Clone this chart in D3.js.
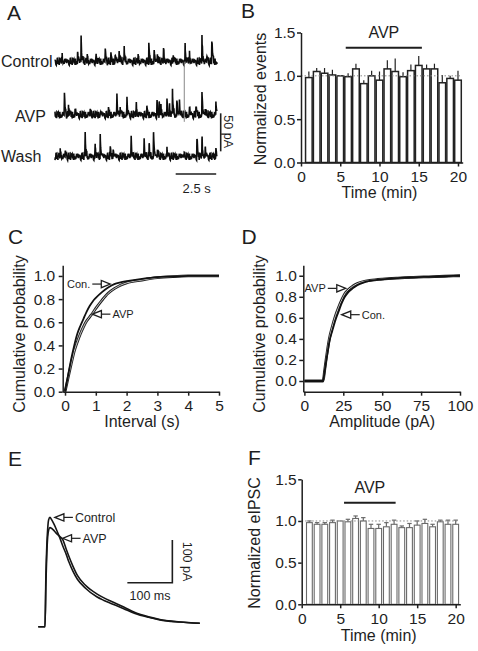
<!DOCTYPE html>
<html><head><meta charset="utf-8">
<script src="https://cdn.jsdelivr.net/npm/d3@7"></script>
<style>
html,body{margin:0;padding:0;background:#fff;}
svg{display:block;}
text{font-family:"Liberation Sans",Arial,sans-serif;fill:#1e1e1e;}
</style></head><body>
<svg id="c" width="478" height="651"></svg>
<script>
// ---------------- DATA ----------------
// Panel A: spontaneous events (time s, amplitude pA)
const traceLabels = ["Control", "AVP", "Wash"];
const ctrlSpikeT = [0.43,1.38,1.60,1.98,2.53,3.09,3.44,3.70,3.95,4.26,5.12,5.78,6.11,6.31,6.69,7.28,8.02,8.29,9.06,9.36,9.67];
const ctrlSpikeA = [7,13,32,7,7,17,9,11,14,17,7,21,14,9,18,8,20,10,32,8,30];
const avpSpikeT = [0.57,0.82,1.23,2.16,2.78,3.29,3.81,4.01,4.43,5.00,5.66,6.28,6.42,6.52,6.90,7.06,7.24,7.51,7.67,8.29,8.69,9.06,9.26,9.92];
const avpSpikeA = [29,13,7,7,5,7,26,9,20,15,9,18,14,12,20,11,31,18,18,9,11,29,9,18];
const washSpikeT = [0.31,0.62,1.85,2.47,2.78,3.40,3.58,4.69,5.49,5.80,6.07,6.31,6.90,7.90,8.75,9.06,9.26,9.92];
const washSpikeA = [8,9,29,15,29,11,13,25,22,15,31,12,9,7,26,26,11,15];
const noisePA = [1.2,-3.1,2.8,-0.9,4.0,-4.4,0.5,2.1,-2.5,3.3,-3.9,1.3,-0.3,4.5,-1.8,0.8,-4.3,2.4,-1.2,3.6,-2.8,0.2,4.3,-3.4,1.6,-0.6,2.7,-4.6,0.9,3.0,-2.1,0.3,-3.7,3.9,-1.3,1.9,-2.4,4.4,-0.2,-3.0,1.5];
const kernT = [0, 0.012, 0.05, 0.15];
const kernV = [0, 1, 0.3, 0];
const artifactT = 7.98;

// Panel B
const bTime = [1,2,3,4,5,6,7,8,9,10,11,12,13,14,15,16,17,18,19,20];
const bMean = [0.98,1.05,1.03,1.01,1.00,0.99,1.08,0.91,1.00,0.95,1.08,1.05,0.99,1.06,1.12,1.08,1.08,0.92,0.97,0.95];
const bErr  = [0.07,0.04,0.06,0.06,0.00,0.04,0.06,0.04,0.06,0.10,0.10,0.15,0.05,0.07,0.11,0.05,0.06,0.09,0.03,0.11];
const bAvp = [5.7, 15.4];

// Panel C
const cInt = [0,0.1,0.2,0.3,0.4,0.5,0.6,0.7,0.8,0.9,1.0,1.2,1.4,1.6,1.8,2.0,2.5,3.0,3.5,4.0,5.0];
const cCon = [0,0.14,0.28,0.40,0.50,0.57,0.63,0.69,0.74,0.78,0.81,0.86,0.90,0.93,0.945,0.955,0.975,0.99,0.995,1.0,1.0];
const cAVP = [0,0.12,0.24,0.35,0.43,0.50,0.56,0.61,0.645,0.68,0.72,0.79,0.85,0.89,0.92,0.94,0.965,0.985,0.995,1.0,1.0];

// Panel D
const dAmp = [0,12,13,14,15,16,18,20,22,24,26,28,31,34,38,42,50,60,70,80,90,100];
const dCon = [0,0,0.09,0.19,0.28,0.37,0.48,0.58,0.66,0.74,0.80,0.84,0.88,0.91,0.935,0.95,0.965,0.978,0.985,0.99,0.995,1.0];
const dAVP = [0,0,0.10,0.21,0.31,0.40,0.52,0.62,0.70,0.77,0.83,0.865,0.90,0.925,0.945,0.955,0.968,0.978,0.985,0.99,0.995,1.0];

// Panel E: evoked IPSC (ms, pA)
const eTime = [-15,-1,0,2,4,6,8,11,15,20,26,33,40,47,53,62,72,90,115,130,148,175,200,230,255,300,344];
const eControl = [0,0,0,120,190,230,250,256,250,240,226,208,188,170,152,130,111,90,70,62,54,42,31,22,16,11,8];
const eAVP = [0,0,0,100,170,210,226,232,230,225,218,211,203,182,165,142,120,97,77,68,59,46,33,23,17,11,8];

// Panel F
const fTime = [1,2,3,4,5,6,7,8,9,10,11,12,13,14,15,16,17,18,19,20];
const fMean = [0.98,0.96,0.96,0.98,1.00,0.99,1.03,1.00,0.91,0.91,0.93,0.96,0.92,0.92,0.95,0.97,0.93,0.99,0.96,0.96];
const fErr  = [0.02,0.02,0.02,0.03,0.00,0.03,0.03,0.04,0.05,0.05,0.05,0.05,0.02,0.05,0.05,0.05,0.03,0.02,0.05,0.05];
const fAvp = [5.5, 12.2];

// tick labels
const timeTicks = [0,5,10,15,20];
const normTicks = [0,0.5,1.0,1.5];
const probTicks = [0,0.2,0.4,0.6,0.8,1.0];
const intTicks = [0,1,2,3,4,5];
const ampTicks = [0,25,50,75,100];

// ---------------- DRAW ----------------
const svg = d3.select("#c");
const ink = "#1e1e1e";
const FONT = "'Liberation Sans', Arial, sans-serif";

function styleAxis(g, fs){
  g.attr("font-family", null).attr("font-size", null);
  g.selectAll("path.domain").attr("stroke", ink).attr("stroke-width", 1.5);
  g.selectAll(".tick line").attr("stroke", ink).attr("stroke-width", 1.5);
  g.selectAll(".tick text").attr("fill", ink).style("font-size", fs + "px").style("font-family", FONT);
}
function txt(x, y, s, fs, anchor, rot){
  const t = svg.append("text").attr("x", x).attr("y", y).text(s)
    .style("font-size", fs + "px").attr("text-anchor", anchor || "start");
  if (rot) t.attr("transform", `rotate(${rot},${x},${y})`);
  return t;
}
function arrow(tipX, tipY, dir, label, fs){
  // dir = 1 points right (label on left), -1 points left (label on right)
  const base = tipX - dir * 9;
  const lineEnd = base - dir * 9;
  svg.append("line").attr("x1", base).attr("y1", tipY).attr("x2", lineEnd).attr("y2", tipY)
    .attr("stroke", ink).attr("stroke-width", 1.2);
  svg.append("path").attr("d", `M${tipX},${tipY}L${base},${tipY-3.6}L${base},${tipY+3.6}Z`)
    .attr("fill", "#fff").attr("stroke", ink).attr("stroke-width", 1.3);
  txt(lineEnd - dir * 2, tipY + fs * 0.36, label, fs, dir === 1 ? "end" : "start");
}

// panel letters
[["A",7,20],["B",241,17.5],["C",8,243.5],["D",241.5,243.5],["E",8,466],["F",248,465]]
  .forEach(d => txt(d[1], d[2], d[0], 21));

// ---- Panel A ----
const aX = d3.scaleLinear().domain([0, 10]).range([55, 217]);
const kern = d3.scaleLinear().domain(kernT).range(kernV).clamp(true);
const aTraces = [
  {label: traceLabels[0], t: ctrlSpikeT, a: ctrlSpikeA, base: 61.7, off: 0,  lx: 1,  ly: 67.3},
  {label: traceLabels[1], t: avpSpikeT,  a: avpSpikeA,  base: 115,  off: 13, lx: 15, ly: 121.7},
  {label: traceLabels[2], t: washSpikeT, a: washSpikeA, base: 156.7,off: 27, lx: 1,  ly: 161.7}
];
aTraces.forEach(tr => {
  tr.y = d3.scaleLinear().domain([0, 50]).range([tr.base, tr.base - 38]);
  const times = d3.range(0, 10.0001, 0.02).concat(tr.t.map(s => s + kernT[1])).sort((a, b) => a - b);
  const pts = times.map((t, i) => ({
    t, v: noisePA[(i * 17 + tr.off) % noisePA.length] + d3.sum(tr.t, (s, j) => tr.a[j] * kern(t - s))
  }));
  svg.append("path").datum(pts)
    .attr("d", d3.line().x(d => aX(d.t)).y(d => tr.y(d.v)))
    .attr("fill", "none").attr("stroke", "#0d0d0d").attr("stroke-width", 1.6);
  txt(tr.lx, tr.ly, tr.label, 16);
});
svg.append("line").attr("x1", aX(artifactT)).attr("x2", aX(artifactT))
  .attr("y1", aTraces[0].y(0)).attr("y2", aTraces[1].y(-9))
  .attr("stroke", "#888").attr("stroke-width", 1);
// scale bars
const sbY = aTraces[1].y;
svg.append("line").attr("x1", 220.7).attr("x2", 220.7).attr("y1", sbY(2.2)).attr("y2", sbY(-47.8))
  .attr("stroke", ink).attr("stroke-width", 1.6);
txt(223.5, 131.7, "50 pA", 12.5, "middle", 90);
svg.append("line").attr("x1", aX(7.45)).attr("x2", aX(9.95)).attr("y1", 174).attr("y2", 174)
  .attr("stroke", ink).attr("stroke-width", 1.6);
txt(196.7, 193.3, "2.5 s", 13, "middle");

// ---- Bar panels (B, F) ----
function barPanel(o){
  const x = d3.scaleLinear().domain([0, 20.6]).range([o.x0, o.x1]);
  const y = d3.scaleLinear().domain([0, 1.5]).range([o.y0, o.yTop]);
  const g = svg.append("g");
  g.selectAll("rect").data(o.time).join("rect")
    .attr("x", (d, i) => x(d) - o.bw / 2).attr("y", (d, i) => y(o.mean[i]))
    .attr("width", o.bw).attr("height", (d, i) => y(0) - y(o.mean[i]))
    .attr("fill", "#fff").attr("stroke", o.barStroke).attr("stroke-width", o.sw);
  g.selectAll("line.err").data(o.time).join("line").attr("class", "err")
    .attr("x1", d => x(d)).attr("x2", d => x(d))
    .attr("y1", (d, i) => y(o.mean[i])).attr("y2", (d, i) => y(o.mean[i] + o.err[i]))
    .attr("stroke", o.barStroke).attr("stroke-width", 1.2);
  if (o.cap) g.selectAll("line.cap").data(o.time).join("line").attr("class", "cap")
    .attr("x1", d => x(d) - 2.2).attr("x2", d => x(d) + 2.2)
    .attr("y1", (d, i) => y(o.mean[i] + o.err[i])).attr("y2", (d, i) => y(o.mean[i] + o.err[i]))
    .attr("stroke", o.barStroke).attr("stroke-width", 1.2)
    .attr("display", (d, i) => o.err[i] > 0 ? null : "none");
  svg.append("line").attr("x1", o.x0).attr("x2", o.x1 - 2).attr("y1", y(1)).attr("y2", y(1))
    .attr("stroke", "#888").attr("stroke-width", 1).attr("stroke-dasharray", "1.5,2");
  const ga = svg.append("g").attr("transform", `translate(${o.x0},0)`)
    .call(d3.axisLeft(y).tickValues(normTicks).tickFormat(d3.format(".1f")).tickSize(o.ytick).tickPadding(o.ypad).tickSizeOuter(0));
  styleAxis(ga, 15.5);
  const gx = svg.append("g").attr("transform", `translate(0,${o.y0})`)
    .call(d3.axisBottom(x).tickValues(timeTicks).tickFormat(d3.format("d")).tickSize(4).tickPadding(o.xpad).tickSizeOuter(0));
  styleAxis(gx, 15.5);
  svg.append("line").attr("x1", x(o.avp[0])).attr("x2", x(o.avp[1])).attr("y1", o.avpY).attr("y2", o.avpY)
    .attr("stroke", ink).attr("stroke-width", 2);
  txt((x(o.avp[0]) + x(o.avp[1])) / 2, o.avpY - 10.2, "AVP", 16, "middle");
  txt(o.ttlX, o.ttlY, o.ytitle, 16, "middle", -90);
  txt((o.x0 + x(20)) / 2, o.xtY, "Time (min)", 16, "middle");
}
barPanel({time: bTime, mean: bMean, err: bErr, avp: bAvp, x0: 301, x1: 462.7, y0: 162.5, yTop: 32.5,
  bw: 6.6, sw: 1.5, barStroke: "#222", cap: false, ytick: 4, ypad: 1.5, xpad: 4,
  avpY: 47.7, ytitle: "Normalized events", ttlX: 266, ttlY: 99, xtY: 198});
barPanel({time: fTime, mean: fMean, err: fErr, avp: fAvp, x0: 301.7, x1: 460.3, y0: 604.3, yTop: 479.3,
  bw: 5.8, sw: 1.1, barStroke: "#6a6a6a", cap: true, ytick: 3.5, ypad: 1.5, xpad: 5,
  avpY: 502.7, ytitle: "Normalized eIPSC", ttlX: 260, ttlY: 543, xtY: 641});

// ---- Cumulative panels (C, D) ----
function cumPanel(o){
  const x = d3.scaleLinear().domain(o.xd).range([o.x0, o.x1]);
  const y = d3.scaleLinear().domain(o.yd).range([391.7, 265.2]);
  const line = d3.line().x((d, i) => x(o.xs[i])).y(d => y(d)).curve(d3.curveMonotoneX);
  svg.append("path").datum(o.avp).attr("d", line).attr("fill", "none").attr("stroke", "#222").attr("stroke-width", 2.8);
  svg.append("path").datum(o.avp).attr("d", line).attr("fill", "none").attr("stroke", "#d8d8d8").attr("stroke-width", 0.9);
  svg.append("path").datum(o.con).attr("d", line).attr("fill", "none").attr("stroke", "#111").attr("stroke-width", 1.8);
  const ga = svg.append("g").attr("transform", `translate(${o.x0},0)`)
    .call(d3.axisLeft(y).tickValues(probTicks).tickFormat(d3.format(".1f")).tickSize(4).tickPadding(o.ypad).tickSizeOuter(0));
  styleAxis(ga, 15.5);
  const gx = svg.append("g").attr("transform", `translate(0,391.7)`)
    .call(d3.axisBottom(x).tickValues(o.xt).tickFormat(d3.format("d")).tickSize(4).tickPadding(4).tickSizeOuter(0));
  styleAxis(gx, 15.5);
  txt(o.ttlX, 334, "Cumulative probability", 16, "middle", -90);
  txt((x(o.xt[0]) + x(o.xt[o.xt.length - 1])) / 2, 427, o.xtitle, 16, "middle");
  return {x, y};
}
const C = cumPanel({xs: cInt, con: cCon, avp: cAVP, xd: [-0.075, 5], x0: 62.7, x1: 219, yd: [0, 1.093],
  xt: intTicks, ypad: 3.5, ttlX: 24.5, xtitle: "Interval (s)"});
const D = cumPanel({xs: dAmp, con: dCon, avp: dAVP, xd: [-0.7, 100], x0: 303.3, x1: 460, yd: [-0.1016, 1.1],
  xt: ampTicks, ypad: 2.5, ttlX: 264.5, xtitle: "Amplitude (pA)"});
arrow(C.x(1.47), C.y(0.93), 1, "Con.", 11);
arrow(C.x(0.89), C.y(0.67), -1, "AVP", 11);
arrow(D.x(26.6), D.y(0.88), 1, "AVP", 11);
arrow(D.x(24), D.y(0.63), -1, "Con.", 11);

// ---- Panel E ----
const eX = d3.scaleLinear().domain([0, 100]).range([45, 90]);
const eY = d3.scaleLinear().domain([0, 100]).range([626.7, 584]);
const eLine = d3.line().x((d, i) => eX(eTime[i])).y(d => eY(d)).curve(d3.curveMonotoneX);
svg.append("path").datum(eAVP).attr("d", eLine).attr("fill", "none").attr("stroke", "#151515").attr("stroke-width", 1.6);
svg.append("path").datum(eControl).attr("d", eLine).attr("fill", "none").attr("stroke", "#151515").attr("stroke-width", 1.6);
arrow(eX(22), eY(256), -1, "Control", 12.5);
arrow(eX(39), eY(207), -1, "AVP", 12.5);
// scale bars 100 ms / 100 pA
svg.append("path").attr("d", `M${eX(183)},${eY(103)}H${eX(283)}V${eY(203)}`)
  .attr("fill", "none").attr("stroke", ink).attr("stroke-width", 1.6);
txt(150, 600, "100 ms", 12.5, "middle");
txt(182.7, 561.5, "100 pA", 12.5, "middle", 90);
</script>
</body></html>
